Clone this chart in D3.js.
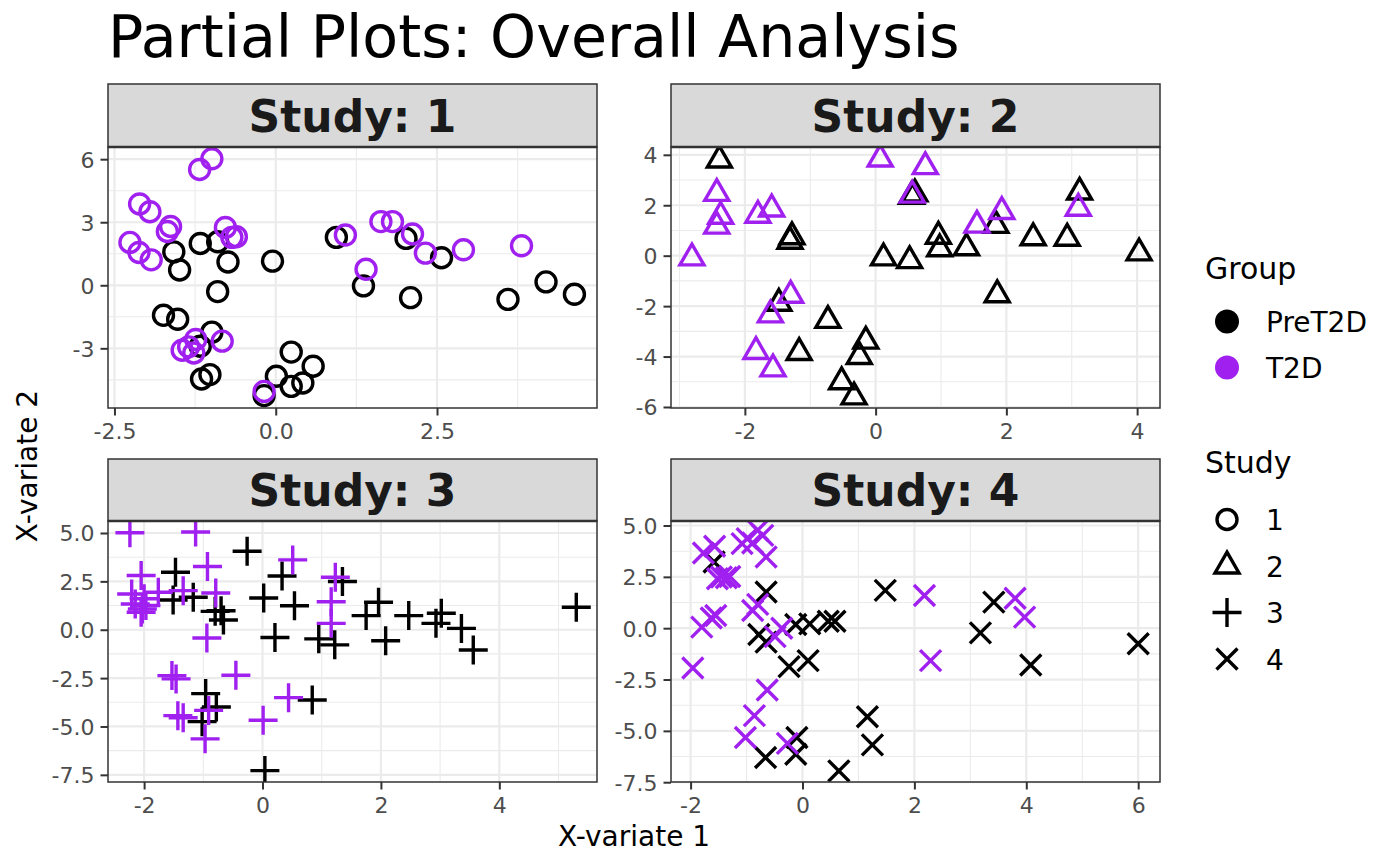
<!DOCTYPE html>
<html>
<head>
<meta charset="utf-8">
<script src="https://cdn.jsdelivr.net/npm/d3@7"></script>
<style>
  html, body { margin: 0; padding: 0; background: #ffffff; }
  svg { display: block; font-family: "DejaVu Sans", sans-serif; }
</style>
</head>
<body>
<svg id="chart" width="1400" height="866"></svg>
<script>
// ---------------- data ----------------
const studies = ["1", "2", "3", "4"];
const groups = ["PreT2D", "T2D"];
const groupColors = ["#000000", "#A020F0"];
const studyShapes = ["circle", "triangle", "plus", "times"];

const study1_PreT2D = [[0.94,2.28],[-1.58,1.59],[-1.49,0.73],[-1.17,1.99],[-0.90,2.07],[-0.74,1.11],[-0.05,1.15],[-0.90,-0.30],[-1.74,-1.43],[-1.52,-1.62],[-0.99,-2.23],[-1.17,-2.90],[-1.15,-4.46],[-1.02,-4.25],[-0.18,-5.25],[0.01,-4.33],[0.24,-3.18],[0.24,-4.81],[0.42,-4.65],[0.58,-3.85],[1.36,-0.03],[2.02,2.23],[2.09,-0.59],[2.57,1.31],[3.60,-0.67],[4.19,0.16],[4.63,-0.43]];
const study1_T2D = [[-0.99,6.02],[-1.18,5.51],[-2.11,3.87],[-1.95,3.50],[-1.63,2.80],[-1.68,2.56],[-2.26,2.04],[-2.12,1.56],[-1.93,1.21],[-0.78,2.75],[-0.68,2.28],[-0.61,2.31],[1.08,2.39],[1.63,3.03],[1.81,3.03],[2.12,2.44],[2.32,1.53],[2.91,1.69],[3.81,1.88],[1.40,0.76],[-1.45,-3.09],[-1.24,-2.58],[-1.27,-3.22],[-1.35,-2.93],[-0.83,-2.66],[-0.18,-5.05]];

const study2_PreT2D = [[-2.39,3.79],[-1.31,0.57],[-1.28,0.75],[0.12,-0.09],[0.52,-0.20],[0.96,0.77],[0.98,0.27],[1.39,0.31],[1.84,1.20],[2.41,0.71],[2.93,0.69],[4.03,0.11],[3.12,2.52],[0.55,2.35],[0.60,2.45],[1.86,-1.55],[-1.48,-1.89],[-0.73,-2.57],[-1.17,-3.84],[-0.15,-3.39],[-0.25,-4.00],[-0.52,-5.00],[-0.33,-5.60]];
const study2_T2D = [[0.07,3.83],[0.76,3.53],[-2.43,2.47],[-2.37,1.56],[-2.43,1.17],[-1.80,1.60],[-1.59,1.85],[-2.81,-0.09],[0.56,2.40],[1.55,1.21],[1.93,1.75],[3.10,1.88],[-1.30,-1.57],[-1.61,-2.35],[-1.83,-3.80],[-1.57,-4.49]];

const study3_PreT2D = [[-0.26,4.06],[-1.47,2.97],[-1.51,1.54],[-1.17,1.68],[-0.80,0.95],[-0.70,0.98],[-0.66,0.50],[0.02,1.64],[0.33,2.78],[0.54,1.24],[0.21,-0.40],[0.95,-0.47],[1.22,-0.78],[1.35,2.49],[1.96,1.42],[1.75,0.73],[2.08,-0.57],[2.47,0.73],[3.02,0.85],[2.93,0.33],[3.36,0.07],[3.56,-1.05],[5.30,1.16],[-0.96,-3.30],[-0.78,-3.99],[-1.02,-4.75],[0.84,-3.63],[0.04,-7.28]];
const study3_T2D = [[-2.24,5.01],[-1.13,5.05],[-0.93,3.27],[0.51,3.61],[-2.05,2.80],[1.23,2.71],[-2.21,1.85],[-2.15,1.33],[-2.03,1.07],[-2.00,1.60],[-1.97,1.25],[-2.05,0.90],[-1.76,1.94],[-1.34,2.02],[-0.79,1.90],[1.16,1.45],[1.16,0.33],[-0.94,-0.43],[-1.53,-2.37],[-1.46,-2.54],[-0.45,-2.35],[-1.43,-4.44],[-1.34,-4.55],[-0.91,-4.17],[-0.97,-5.64],[0.01,-4.68],[0.44,-3.51]];

const study4_PreT2D = [[-1.58,3.22],[-0.65,1.76],[-0.78,-0.31],[-0.65,-0.68],[-0.12,0.18],[0.13,0.21],[0.46,0.34],[0.58,0.34],[-0.24,-1.87],[0.10,-1.58],[1.48,1.84],[3.18,-0.23],[3.42,1.27],[4.08,-1.79],[6.00,-0.76],[1.16,-4.31],[1.25,-5.68],[-0.10,-5.32],[-0.12,-6.14],[-0.66,-6.30],[0.65,-6.95]];
const study4_T2D = [[-1.77,3.66],[-1.57,3.99],[-0.99,4.36],[-0.80,4.77],[-0.71,4.52],[-0.89,4.15],[-0.65,3.47],[-1.08,4.12],[-1.45,2.49],[-1.36,2.46],[-1.52,2.41],[-1.30,2.52],[-1.80,0.05],[-1.63,0.50],[-1.55,0.62],[-0.89,0.86],[-0.80,1.16],[-0.37,0.00],[-0.49,-0.41],[-1.96,-1.94],[-0.63,-3.01],[-0.86,-4.26],[-1.02,-5.32],[-0.27,-5.61],[2.18,1.59],[2.29,-1.58],[3.80,1.46],[3.97,0.54]];

// axis limits (free scales per panel) and tick labels
const xLimits = [[-2.60, 4.98], [-3.13, 4.35], [-2.61, 5.65], [-2.35, 6.39]];
const yLimits = [[-5.84, 6.58], [-6.04, 4.31], [-7.87, 5.62], [-7.49, 5.22]];
const xTickLabels = [["-2.5","0.0","2.5"], ["-2","0","2","4"], ["-2","0","2","4"], ["-2","0","2","4","6"]];
const yTickLabels = [["-3","0","3","6"], ["-6","-4","-2","0","2","4"], ["-7.5","-5.0","-2.5","0.0","2.5","5.0"], ["-7.5","-5.0","-2.5","0.0","2.5","5.0"]];

const panelData = [
  [study1_PreT2D, study1_T2D],
  [study2_PreT2D, study2_T2D],
  [study3_PreT2D, study3_T2D],
  [study4_PreT2D, study4_T2D]
];

// ---------------- layout ----------------
const svg = d3.select("#chart");
const colX = [[108, 597], [671, 1160]];
const rowY = [{strip: 84, top: 147, bottom: 408}, {strip: 459, top: 521, bottom: 782}];

const gridCol = "#EBEBEB";
const darkCol = "#333333";

function shapePath(shape, cx, cy) {
  const p = d3.path();
  if (shape === "circle") {
    const r = 10;
    p.moveTo(cx + r, cy);
    p.arc(cx, cy, r, 0, Math.PI * 2);
    p.closePath();
  } else if (shape === "triangle") {
    const s = 24, R = s / Math.sqrt(3);
    p.moveTo(cx, cy - R);
    p.lineTo(cx + s / 2, cy + R / 2);
    p.lineTo(cx - s / 2, cy + R / 2);
    p.closePath();
  } else if (shape === "plus") {
    const h = 14.5;
    p.moveTo(cx - h, cy); p.lineTo(cx + h, cy);
    p.moveTo(cx, cy - h); p.lineTo(cx, cy + h);
  } else {
    const h = 10.5;
    p.moveTo(cx - h, cy - h); p.lineTo(cx + h, cy + h);
    p.moveTo(cx - h, cy + h); p.lineTo(cx + h, cy - h);
  }
  return p.toString();
}

function minorBreaks(major, domain) {
  const step = major[1] - major[0];
  const out = [];
  const ext = [major[0] - step].concat(major, [major[major.length - 1] + step]);
  for (let i = 0; i < ext.length - 1; i++) {
    const m = (ext[i] + ext[i + 1]) / 2;
    if (m >= domain[0] && m <= domain[1]) out.push(m);
  }
  return out;
}

studies.forEach((st, i) => {
  const c = colX[i % 2], r = rowY[Math.floor(i / 2)];
  const x = d3.scaleLinear().domain(xLimits[i]).range([c[0], c[1]]);
  const y = d3.scaleLinear().domain(yLimits[i]).range([r.bottom, r.top]);
  const xMajor = xTickLabels[i].map(Number);
  const yMajor = yTickLabels[i].map(Number);
  const g = svg.append("g");

  g.append("rect").attr("x", c[0]).attr("y", r.top).attr("width", c[1] - c[0]).attr("height", r.bottom - r.top).attr("fill", "#ffffff");

  minorBreaks(xMajor, xLimits[i]).forEach(v => {
    g.append("line").attr("x1", x(v)).attr("x2", x(v)).attr("y1", r.top).attr("y2", r.bottom).attr("stroke", gridCol).attr("stroke-width", 1.1);
  });
  minorBreaks(yMajor, yLimits[i]).forEach(v => {
    g.append("line").attr("y1", y(v)).attr("y2", y(v)).attr("x1", c[0]).attr("x2", c[1]).attr("stroke", gridCol).attr("stroke-width", 1.1);
  });
  xMajor.forEach(v => {
    g.append("line").attr("x1", x(v)).attr("x2", x(v)).attr("y1", r.top).attr("y2", r.bottom).attr("stroke", gridCol).attr("stroke-width", 2.2);
  });
  yMajor.forEach(v => {
    g.append("line").attr("y1", y(v)).attr("y2", y(v)).attr("x1", c[0]).attr("x2", c[1]).attr("stroke", gridCol).attr("stroke-width", 2.2);
  });

  const clipId = "clip" + i;
  svg.append("clipPath").attr("id", clipId).append("rect")
    .attr("x", c[0]).attr("y", r.top).attr("width", c[1] - c[0]).attr("height", r.bottom - r.top);
  const pg = g.append("g").attr("clip-path", "url(#" + clipId + ")");
  groups.forEach((grp, gi) => {
    pg.selectAll("path.g" + gi).data(panelData[i][gi]).enter().append("path")
      .attr("class", "g" + gi)
      .attr("d", d => shapePath(studyShapes[i], x(d[0]), y(d[1])))
      .attr("fill", "none")
      .attr("stroke", groupColors[gi])
      .attr("stroke-width", 3.4)
      .attr("stroke-linejoin", "miter");
  });

  g.append("rect").attr("x", c[0]).attr("y", r.top).attr("width", c[1] - c[0]).attr("height", r.bottom - r.top)
    .attr("fill", "none").attr("stroke", darkCol).attr("stroke-width", 1.5);

  g.append("rect").attr("x", c[0]).attr("y", r.strip).attr("width", c[1] - c[0]).attr("height", r.top - r.strip)
    .attr("fill", "#D9D9D9").attr("stroke", darkCol).attr("stroke-width", 1.5);
  g.append("line").attr("x1", c[0]).attr("x2", c[1]).attr("y1", r.top).attr("y2", r.top).attr("stroke", darkCol).attr("stroke-width", 2.5);
  g.append("text").attr("x", (c[0] + c[1]) / 2).attr("y", (r.strip + r.top) / 2 + 16)
    .attr("text-anchor", "middle").attr("font-weight", "bold").attr("font-size", 44).attr("fill", "#1A1A1A")
    .text("Study: " + st);

  const xAxis = d3.axisBottom(x).tickValues(xMajor).tickFormat((d, k) => xTickLabels[i][k]).tickSize(7.5).tickPadding(8);
  const yAxis = d3.axisLeft(y).tickValues(yMajor).tickFormat((d, k) => yTickLabels[i][k]).tickSize(7.5).tickPadding(6);
  const gx = g.append("g").attr("transform", `translate(0,${r.bottom})`).call(xAxis);
  const gy = g.append("g").attr("transform", `translate(${c[0]},0)`).call(yAxis);
  [gx, gy].forEach(ax => {
    ax.select(".domain").remove();
    ax.selectAll(".tick line").attr("stroke", darkCol).attr("stroke-width", 2);
    ax.selectAll(".tick text").attr("fill", "#4D4D4D").attr("font-size", 22).attr("font-family", "DejaVu Sans");
  });
  gx.selectAll(".tick text").attr("dy", "0.72em");
  gy.selectAll(".tick text").attr("dy", "0.36em");
});

svg.append("text").attr("x", 108).attr("y", 57).attr("font-size", 58.6).attr("fill", "#000000")
  .text("Partial Plots: Overall Analysis");

svg.append("text").attr("x", 634).attr("y", 846).attr("text-anchor", "middle").attr("font-size", 28).attr("fill", "#000000")
  .text("X-variate 1");
svg.append("text").attr("transform", "translate(37,466) rotate(-90)").attr("text-anchor", "middle")
  .attr("font-size", 28).attr("fill", "#000000").text("X-variate 2");

const lg = svg.append("g");
lg.append("text").attr("x", 1205).attr("y", 279).attr("font-size", 30).attr("fill", "#000").text("Group");
groups.forEach((grp, gi) => {
  const cy = 321.5 + gi * 46;
  lg.append("circle").attr("cx", 1227).attr("cy", cy).attr("r", 12).attr("fill", groupColors[gi]);
  lg.append("text").attr("x", 1266).attr("y", cy + 10.5).attr("font-size", 28).attr("fill", "#000").text(grp);
});
lg.append("text").attr("x", 1205).attr("y", 473).attr("font-size", 30).attr("fill", "#000").text("Study");
studies.forEach((st, si) => {
  const cy = 519.5 + si * 46.5;
  lg.append("path").attr("d", shapePath(studyShapes[si], 1227, cy)).attr("fill", "none")
    .attr("stroke", "#000").attr("stroke-width", 3.4);
  lg.append("text").attr("x", 1266).attr("y", cy + 10.5).attr("font-size", 28).attr("fill", "#000").text(st);
});
</script>
</body>
</html>
